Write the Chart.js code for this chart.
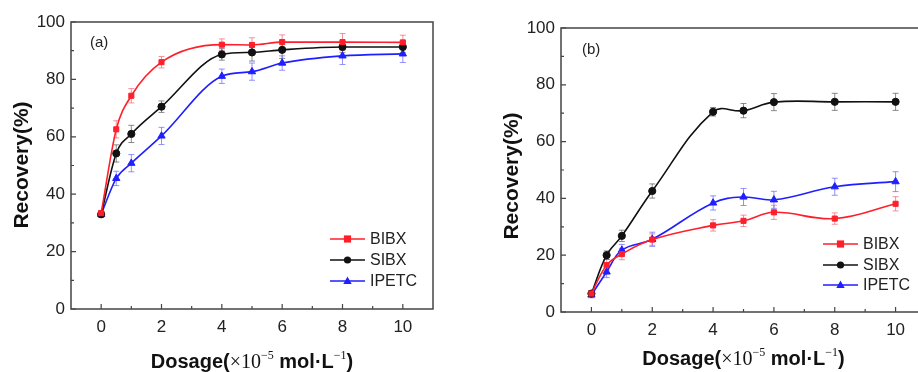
<!DOCTYPE html>
<html>
<head>
<meta charset="utf-8">
<script src="https://cdn.jsdelivr.net/npm/chart.js@4.4.1/dist/chart.umd.min.js"></script>
<style>
html,body{margin:0;padding:0;background:#fff;overflow:hidden;width:918px;height:372px;}
#wrap{position:relative;width:918px;height:372px;overflow:hidden;}
canvas{position:absolute;top:0;}
#ca{left:0;}
#cb{left:459px;}
</style>
</head>
<body>
<div id="wrap">
<canvas id="ca" width="459" height="372"></canvas>
<canvas id="cb" width="480" height="372"></canvas>
</div>
<script>
// ---- data ----
const dosage = [0, 0.5, 1, 2, 4, 5, 6, 8, 10];
const xTickLabels = [0, 2, 4, 6, 8, 10];
const yTickLabels = [0, 20, 40, 60, 80, 100];
const seriesNames = ['BIBX', 'SIBX', 'IPETC'];

// panel (a)
const aBIBX  = [33.4, 62.6, 74.3, 86.0, 92.1, 92.0, 93.0, 93.0, 92.9];
const aSIBX  = [33.0, 54.2, 61.0, 70.5, 88.7, 89.4, 90.3, 91.3, 91.3];
const aIPETC = [33.0, 45.5, 50.8, 60.3, 81.1, 82.7, 85.7, 88.2, 88.9];
const aBIBXerr  = [1.0, 3.0, 2.5, 2.0, 2.0, 2.5, 2.5, 3.0, 2.5];
const aSIBXerr  = [1.0, 3.0, 3.0, 2.0, 2.0, 3.0, 3.0, 2.0, 2.0];
const aIPETCerr = [1.0, 2.5, 3.0, 3.0, 2.5, 3.0, 2.5, 3.0, 3.0];

// panel (b)
const bBIBX  = [6.5, 16.5, 20.4, 25.5, 30.5, 32.1, 35.1, 32.9, 38.1];
const bSIBX  = [6.5, 20.0, 26.8, 42.6, 70.5, 70.9, 73.9, 74.0, 74.0];
const bIPETC = [6.0, 14.1, 21.8, 25.6, 38.4, 40.5, 39.5, 44.1, 45.9];
const bBIBXerr  = [1.0, 2.0, 2.0, 2.0, 2.0, 2.0, 2.5, 2.0, 2.5];
const bSIBXerr  = [1.0, 1.5, 2.0, 2.5, 1.5, 2.5, 3.0, 3.0, 3.0];
const bIPETCerr = [1.0, 2.0, 2.0, 2.5, 2.5, 3.0, 3.0, 3.0, 3.5];

// ---- styles ----
const colors = ['#ff1f2a', '#111111', '#1f1fff'];
const errColors = ['rgba(240,110,120,0.75)', 'rgba(90,90,90,0.7)', 'rgba(110,110,255,0.75)'];
const pointStyles = ['rect', 'circle', 'triangle'];
const pointRadii = [3.6, 3.6, 4.2];
const FONT = "'Liberation Sans', Arial, sans-serif";
const SERIF = "'Liberation Serif', 'Times New Roman', serif";

function toXY(ys) { return dosage.map((x, i) => ({x: x, y: ys[i]})); }

function makeDatasets(vals, errs, mode) {
  return vals.map((v, k) => ({
    label: seriesNames[k],
    data: toXY(v),
    errors: errs[k],
    borderColor: colors[k],
    backgroundColor: colors[k],
    pointBackgroundColor: colors[k],
    pointBorderColor: colors[k],
    pointStyle: pointStyles[k],
    pointRadius: pointRadii[k],
    pointBorderWidth: 1,
    borderWidth: 1.6,
    tension: 0.4,
    cubicInterpolationMode: mode,
    fill: false
  }));
}

function drawPointShape(ctx, style, x, y, r, color) {
  ctx.save();
  ctx.fillStyle = color;
  ctx.beginPath();
  if (style === 'rect') {
    ctx.rect(x - r, y - r, 2 * r, 2 * r);
  } else if (style === 'circle') {
    ctx.arc(x, y, r, 0, Math.PI * 2);
  } else {
    ctx.moveTo(x, y - r * 1.1);
    ctx.lineTo(x + r, y + r * 0.7);
    ctx.lineTo(x - r, y + r * 0.7);
    ctx.closePath();
  }
  ctx.fill();
  ctx.restore();
}

function panelPlugin(cfg) {
  return {
    id: 'panel' + cfg.tag,
    beforeDatasetsDraw(chart) {
      const ctx = chart.ctx, xs = chart.scales.x, ys = chart.scales.y;
      ctx.save();
      chart.data.datasets.forEach((ds, k) => {
        ctx.strokeStyle = errColors[k];
        ctx.lineWidth = 1;
        ds.data.forEach((p, i) => {
          const e = ds.errors[i];
          const px = xs.getPixelForValue(p.x);
          const y1 = ys.getPixelForValue(p.y + e), y2 = ys.getPixelForValue(p.y - e);
          ctx.beginPath();
          ctx.moveTo(px, y1); ctx.lineTo(px, y2);
          ctx.moveTo(px - 3, y1); ctx.lineTo(px + 3, y1);
          ctx.moveTo(px - 3, y2); ctx.lineTo(px + 3, y2);
          ctx.stroke();
        });
      });
      ctx.restore();
    },
    afterDraw(chart) {
      const ctx = chart.ctx, a = chart.chartArea, xs = chart.scales.x, ys = chart.scales.y;
      ctx.save();
      // frame
      ctx.strokeStyle = '#444';
      ctx.lineWidth = 1.5;
      ctx.strokeRect(a.left, a.top, a.right - a.left, a.bottom - a.top);
      // inward ticks
      ctx.lineWidth = 1.2;
      ctx.beginPath();
      for (let v = 0; v <= 10; v++) {
        const px = xs.getPixelForValue(v);
        const len = (v % 2 === 0) ? 5 : 3;
        ctx.moveTo(px, a.bottom); ctx.lineTo(px, a.bottom - len);
      }
      for (let v = 0; v <= 100; v += 10) {
        const py = ys.getPixelForValue(v);
        const len = (v % 20 === 0) ? 5 : 3;
        ctx.moveTo(a.left, py); ctx.lineTo(a.left + len, py);
      }
      ctx.stroke();

      // panel label
      ctx.fillStyle = '#222';
      ctx.font = '15px ' + FONT;
      ctx.textAlign = 'left';
      ctx.textBaseline = 'middle';
      ctx.fillText(cfg.tag, cfg.tagX, cfg.tagY);

      // legend
      ctx.font = '16px ' + FONT;
      seriesNames.forEach((n, k) => {
        const y = cfg.legY[k];
        ctx.strokeStyle = colors[k];
        ctx.lineWidth = 1.6;
        ctx.beginPath();
        ctx.moveTo(cfg.legX, y); ctx.lineTo(cfg.legX + 35, y);
        ctx.stroke();
        drawPointShape(ctx, pointStyles[k], cfg.legX + 17.5, y, pointRadii[k], colors[k]);
        ctx.fillStyle = '#222';
        ctx.fillText(n, cfg.legX + 40, y + 1);
      });

      // y title
      ctx.save();
      ctx.translate(cfg.yTitleX, cfg.yTitleY);
      ctx.rotate(-Math.PI / 2);
      ctx.font = 'bold 21px ' + FONT;
      ctx.fillStyle = '#111';
      ctx.textAlign = 'center';
      ctx.textBaseline = 'middle';
      ctx.fillText('Recovery(%)', 0, 0);
      ctx.restore();

      // x title with superscripts
      const segs = [
        {t: 'Dosage(', f: 'bold 20px ' + FONT, dy: 0},
        {t: '\u00d710', f: '20px ' + SERIF, dy: 0},
        {t: '\u22125', f: '12px ' + SERIF, dy: -9},
        {t: ' mol\u00b7L', f: 'bold 20px ' + FONT, dy: 0},
        {t: '\u22121', f: '12px ' + SERIF, dy: -9},
        {t: ')', f: 'bold 20px ' + FONT, dy: 0}
      ];
      let w = 0;
      segs.forEach(s => { ctx.font = s.f; s.w = ctx.measureText(s.t).width; w += s.w; });
      let x = (a.left + a.right) / 2 - w / 2;
      ctx.textAlign = 'left';
      ctx.textBaseline = 'alphabetic';
      ctx.fillStyle = '#111';
      segs.forEach(s => { ctx.font = s.f; ctx.fillText(s.t, x, cfg.xTitleBase + s.dy); x += s.w; });
      ctx.restore();
    }
  };
}

function makeChart(id, datasets, cfg) {
  return new Chart(document.getElementById(id), {
    type: 'line',
    data: {datasets: datasets},
    plugins: [panelPlugin(cfg)],
    options: {
      responsive: false,
      animation: false,
      devicePixelRatio: 1,
      layout: {padding: {top: cfg.top, right: cfg.right, left: 0, bottom: 0}},
      plugins: {legend: {display: false}, tooltip: {enabled: false}},
      scales: {
        x: {
          type: 'linear', min: -1, max: 11,
          afterBuildTicks(s) { s.ticks = xTickLabels.map(v => ({value: v})); },
          afterFit(s) { s.height = cfg.xH; },
          grid: {display: false, drawTicks: false},
          border: {display: false},
          ticks: {padding: 8, color: '#222', font: {size: 17, family: FONT}, maxRotation: 0}
        },
        y: {
          type: 'linear', min: 0, max: 100,
          afterBuildTicks(s) { s.ticks = yTickLabels.map(v => ({value: v})); },
          afterFit(s) { s.width = cfg.yW; },
          grid: {display: false, drawTicks: false},
          border: {display: false},
          ticks: {padding: 6, color: '#222', font: {size: 17, family: FONT}}
        }
      }
    }
  });
}

makeChart('ca', makeDatasets([aBIBX, aSIBX, aIPETC], [aBIBXerr, aSIBXerr, aIPETCerr], 'monotone'), {
  tag: '(a)', tagX: 90, tagY: 43,
  top: 22, right: 26, xH: 63, yW: 71,
  legX: 330, legY: [239, 260, 281],
  yTitleX: 22, yTitleY: 165,
  xTitleBase: 368
});

makeChart('cb', makeDatasets([bBIBX, bSIBX, bIPETC], [bBIBXerr, bSIBXerr, bIPETCerr], 'default'), {
  tag: '(b)', tagX: 123, tagY: 50,
  top: 28, right: 13, xH: 60, yW: 102,
  legX: 364, legY: [244, 265, 285],
  yTitleX: 53, yTitleY: 176,
  xTitleBase: 365
});
</script>
</body>
</html>
